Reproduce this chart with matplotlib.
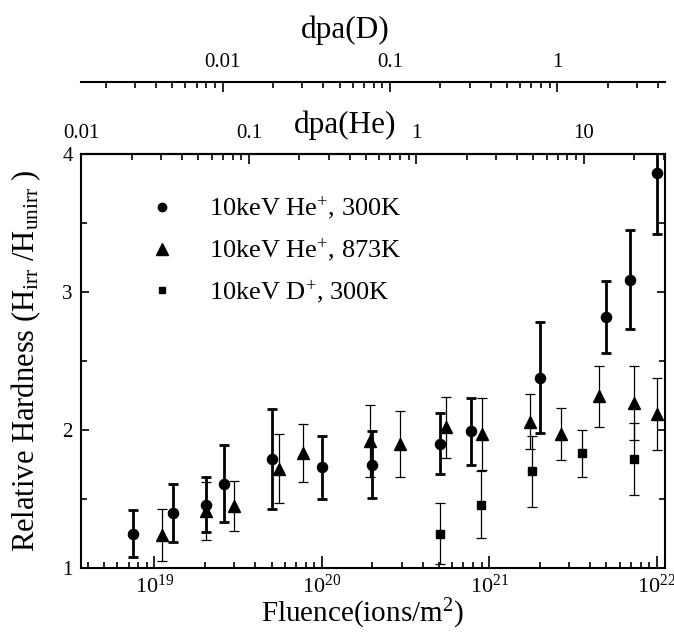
import numpy as np
import matplotlib
matplotlib.use("Agg")
import matplotlib.pyplot as plt
from matplotlib.lines import Line2D
from matplotlib.ticker import LogLocator, NullFormatter, FixedLocator, FixedFormatter

plt.rcParams['font.family'] = ['Liberation Serif', 'DejaVu Serif']
plt.rcParams['mathtext.fontset'] = 'custom'
plt.rcParams['mathtext.rm'] = 'Liberation Serif'
plt.rcParams['mathtext.it'] = 'Liberation Serif:italic'

# ---- data ----
he300_fluence = [7.4e18, 1.29e19, 2.04e19, 2.61e19, 5.0e19, 1.0e20, 2.0e20,
                 5.1e20, 7.8e20, 2.0e21, 5.0e21, 6.95e21, 1.0e22]
he300_hard = [1.25, 1.40, 1.46, 1.61, 1.79, 1.73, 1.75,
              1.90, 1.99, 2.38, 2.82, 3.09, 3.86]
he300_err = [0.17, 0.21, 0.20, 0.28, 0.36, 0.23, 0.245,
             0.22, 0.24, 0.40, 0.26, 0.36, 0.44]

he873_fluence = [1.11e19, 2.04e19, 2.98e19, 5.55e19, 7.67e19, 1.95e20, 2.91e20,
                 5.5e20, 9.1e20, 1.76e21, 2.69e21, 4.54e21, 7.35e21, 1.0e22]
he873_hard = [1.24, 1.415, 1.45, 1.72, 1.835, 1.92, 1.90,
              2.02, 1.97, 2.06, 1.97, 2.245, 2.195, 2.115]
he873_err = [0.19, 0.21, 0.18, 0.25, 0.21, 0.26, 0.24,
             0.22, 0.26, 0.20, 0.19, 0.22, 0.27, 0.26]

d300_fluence = [5.1e20, 8.9e20, 1.8e21, 3.6e21, 7.35e21]
d300_hard = [1.25, 1.46, 1.70, 1.83, 1.79]
d300_err = [0.22, 0.245, 0.26, 0.17, 0.26]

labels = [r"10keV He$^{+}$, 300K", r"10keV He$^{+}$, 873K", r"10keV D$^{+}$, 300K"]

# conversion factors fluence -> dpa
he_factor = 3.66e20
d_factor = 2.55e21

W, H = 674, 633
fig = plt.figure(figsize=(W / 100, H / 100), dpi=100)
L, R, B, T = 81, 665, 568, 154
ax = fig.add_axes([L / W, 1 - B / H, (R - L) / W, (B - T) / H])

ax.set_xscale('log')
ax.set_xlim(3.64e18, 1.12e22)
ax.set_ylim(1, 4)

ax.errorbar(he300_fluence, he300_hard, yerr=he300_err, fmt='o', color='black',
            ms=7.3, elinewidth=2.0, capsize=3.5, capthick=2.0, clip_on=True, zorder=3)
ax.errorbar(he873_fluence, he873_hard, yerr=he873_err, fmt='^', color='black',
            ms=9.0, elinewidth=0.9, capsize=3.5, capthick=0.9, zorder=3)
ax.errorbar(d300_fluence, d300_hard, yerr=d300_err, fmt='s', color='black',
            ms=5.8, elinewidth=0.9, capsize=3.5, capthick=0.9, zorder=3)

for s in ax.spines.values():
    s.set_linewidth(1.5)

ax.set_yticks([1, 2, 3, 4])
ax.set_yticks([1.5, 2.5, 3.5], minor=True)
ax.yaxis.set_minor_formatter(NullFormatter())
ax.tick_params(axis='y', which='both', direction='in', left=True, right=True,
               labelsize=15, pad=6, width=1.2)
ax.tick_params(axis='y', which='major', length=6)
ax.tick_params(axis='y', which='minor', length=4)

ax.xaxis.set_major_locator(LogLocator(base=10, numticks=10))
ax.xaxis.set_minor_locator(LogLocator(base=10, subs=np.arange(2, 10), numticks=20))
ax.xaxis.set_minor_formatter(NullFormatter())
ax.tick_params(axis='x', which='both', direction='in', top=False, bottom=True,
               labelsize=16, pad=5, width=1.2)
ax.tick_params(axis='x', which='major', length=9)
ax.tick_params(axis='x', which='minor', length=4.5)

# dpa(He) axis on top spine
sec_he = ax.secondary_xaxis('top', functions=(lambda x: x / he_factor, lambda x: x * he_factor))
sec_he.xaxis.set_major_locator(FixedLocator([0.01, 0.1, 1, 10]))
sec_he.xaxis.set_major_formatter(FixedFormatter(['0.01', '0.1', '1', '10']))
sec_he.xaxis.set_minor_locator(LogLocator(base=10, subs=np.arange(2, 10), numticks=20))
sec_he.xaxis.set_minor_formatter(NullFormatter())
sec_he.tick_params(which='both', direction='in', labelsize=15, pad=8, width=1.2)
sec_he.tick_params(which='major', length=7)
sec_he.tick_params(which='minor', length=4)
sec_he.spines['top'].set_linewidth(1.5)

# dpa(D) axis above
locD = (1 - 82 / H - (1 - B / H)) / ((B - T) / H)
sec_d = ax.secondary_xaxis(locD, functions=(lambda x: x / d_factor, lambda x: x * d_factor))
sec_d.xaxis.set_major_locator(FixedLocator([0.01, 0.1, 1]))
sec_d.xaxis.set_major_formatter(FixedFormatter(['0.01', '0.1', '1']))
sec_d.xaxis.set_minor_locator(LogLocator(base=10, subs=np.arange(2, 10), numticks=20))
sec_d.xaxis.set_minor_formatter(NullFormatter())
sec_d.tick_params(which='both', direction='in', labelsize=15, pad=7, width=1.2)
sec_d.tick_params(which='major', length=7)
sec_d.tick_params(which='minor', length=4)
for s in sec_d.spines.values():
    s.set_linewidth(1.5)

fig.text(345 / W, 1 - 125 / H, 'dpa(He)', ha='center', va='center', fontsize=22.5)
fig.text(345 / W, 1 - 30 / H, 'dpa(D)', ha='center', va='center', fontsize=22.5)
fig.text(362 / W, 1 - 614 / H, r'Fluence(ions/m$^{2}$)', ha='center', va='center', fontsize=21)
fig.text(26 / W, 1 - 361 / H, r'Relative Hardness (H$_{\mathrm{irr}}$ /H$_{\mathrm{unirr}}$ )',
         ha='center', va='center', rotation=90, fontsize=22)

handles = [Line2D([], [], ls='none', marker='o', color='black', ms=6),
           Line2D([], [], ls='none', marker='^', color='black', ms=8.5),
           Line2D([], [], ls='none', marker='s', color='black', ms=5)]
leg = fig.legend(handles, labels, loc='upper left', bbox_to_anchor=(149 / W, 1 - 195 / H),
                 frameon=False, fontsize=19, handlelength=1.0, handletextpad=1.27,
                 labelspacing=0.55, borderpad=0, borderaxespad=0)

fig.savefig('out.png', dpi=100)
